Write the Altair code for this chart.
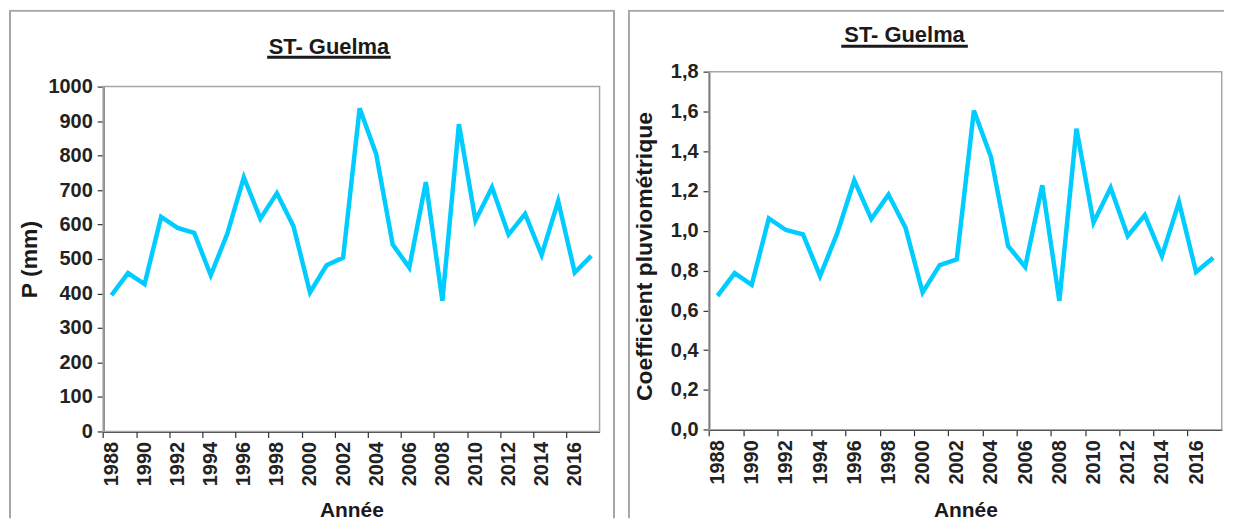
import altair as alt
import pandas as pd

# ---------------- data ----------------
years = list(range(1988, 2018))
precip_mm = [395, 459, 427, 622, 590, 576, 453, 573, 737, 617,
             691, 595, 403, 482, 504, 937, 804, 542, 475, 723,
             379, 891, 612, 708, 571, 631, 512, 668, 461, 509]
coef_pluvio = [0.673, 0.787, 0.728, 1.062, 1.004, 0.982, 0.773, 0.987, 1.254, 1.059,
               1.182, 1.015, 0.690, 0.828, 0.857, 1.605, 1.371, 0.924, 0.818, 1.229,
               0.648, 1.513, 1.042, 1.216, 0.974, 1.079, 0.873, 1.144, 0.793, 0.865]
p_ticks = [0, 100, 200, 300, 400, 500, 600, 700, 800, 900, 1000]
c_ticks = [0.0, 0.2, 0.4, 0.6, 0.8, 1.0, 1.2, 1.4, 1.6, 1.8]
year_labels = years[::2]
station_title = ["ST- Guelma"]
x_title = "Année"
y_title_left = "P (mm)"
y_title_right = "Coefficient pluviométrique"

FONT = "Liberation Sans"
LINE_COLOR = "#00CCFF"
BORDER = "#a6a6a6"
TEXT = "#1a1a1a"


def panel(values, ydomain, yticks, ytitle, label_expr, geo):
    W, H = geo["W"], geo["H"]
    x0, x1, y0, y1 = geo["plot"]
    step = (x1 - x0) / len(years)
    df = pd.DataFrame({"year": years, "v": values})
    one = pd.DataFrame({"t": station_title})

    xscale = alt.Scale(type="point", range=[x0, x1], padding=0.5)
    yscale = alt.Scale(domain=ydomain, range=[y1, y0], nice=False, zero=False)

    line = alt.Chart(df).mark_line(color=LINE_COLOR, strokeWidth=4.5).encode(
        x=alt.X("year:O", scale=xscale,
                axis=alt.Axis(values=year_labels, title=x_title, offset=-(H - y1),
                              tickOffset=-step / 2, labelOffset=step / 2,
                              labelAngle=-90, labelAlign="right", labelBaseline="middle",
                              tickSize=6, labelPadding=4, titleFontSize=21,
                              titleY=geo["xtitle_y"], titleBaseline="alphabetic")),
        y=alt.Y("v:Q", scale=yscale,
                axis=alt.Axis(values=yticks, labelExpr=label_expr, title=ytitle,
                              offset=-x0, tickSize=6, labelPadding=5,
                              titleFontSize=geo["ytitle_size"],
                              titleX=geo["ytitle_x"], titleY=geo["ytitle_y"],
                              titleBaseline="middle", titleAngle=-90, titleAlign="center")),
    )

    border = alt.Chart(one).mark_rect(clip=True, fill="transparent", stroke=BORDER,
                                      strokeWidth=2).encode(
        x=alt.value(1), x2=alt.value(geo["bx2"]), y=alt.value(1), y2=alt.value(H + 30))

    frame = alt.Chart(one).mark_rect(fill="transparent", stroke=BORDER,
                                     strokeWidth=1.5).encode(
        x=alt.value(x0), x2=alt.value(x1), y=alt.value(y0), y2=alt.value(y1))

    title = alt.Chart(one).mark_text(font=FONT, fontSize=22, fontWeight="bold",
                                     color=TEXT, align="center",
                                     baseline="alphabetic").encode(
        text="t:N", x=alt.value(geo["tx"]), y=alt.value(geo["ty"]))

    underline = alt.Chart(one).mark_rule(color=TEXT, strokeWidth=3).encode(
        x=alt.value(geo["ux"][0]), x2=alt.value(geo["ux"][1]), y=alt.value(geo["uy"]))

    return alt.layer(border, frame, line, title, underline).properties(width=W, height=H)


left_geo = dict(W=608, H=510, plot=(94.5, 592.5, 77, 423), bx2=607,
                tx=321, ty=44, ux=(259, 383), uy=47.5, ytitle_size=23,
                ytitle_x=-73.5, ytitle_y=250, xtitle_y=85)
right_geo = dict(W=598, H=510, plot=(81.3, 595.7, 62, 421.3), bx2=640,
                 tx=277.5, ty=32, ux=(214, 341), uy=36.5, ytitle_size=23,
                 ytitle_x=-64.3, ytitle_y=247, xtitle_y=86.7)

left = panel(precip_mm, [0, 1000], p_ticks, y_title_left,
             "format(datum.value, 'd')", left_geo)
right = panel(coef_pluvio, [0, 1.8], c_ticks, y_title_right,
              "replace(format(datum.value, '.1f'), '.', ',')", right_geo)

chart = alt.hconcat(left, right, spacing=11).properties(
    padding=0, background="white"
).configure_view(stroke="transparent").configure_axis(
    labelFont=FONT, labelFontSize=20, labelFontWeight="bold", labelColor="#222222",
    titleFont=FONT, titleFontWeight="bold", titleColor=TEXT,
    domainColor="#000000", domainWidth=1.5, tickColor="#333333", tickWidth=1.2,
    grid=False, labelOverlap=False, labelBound=False, labelFlush=False,
)

chart.save("out.html", embed_options={"renderer": "svg", "actions": False})
